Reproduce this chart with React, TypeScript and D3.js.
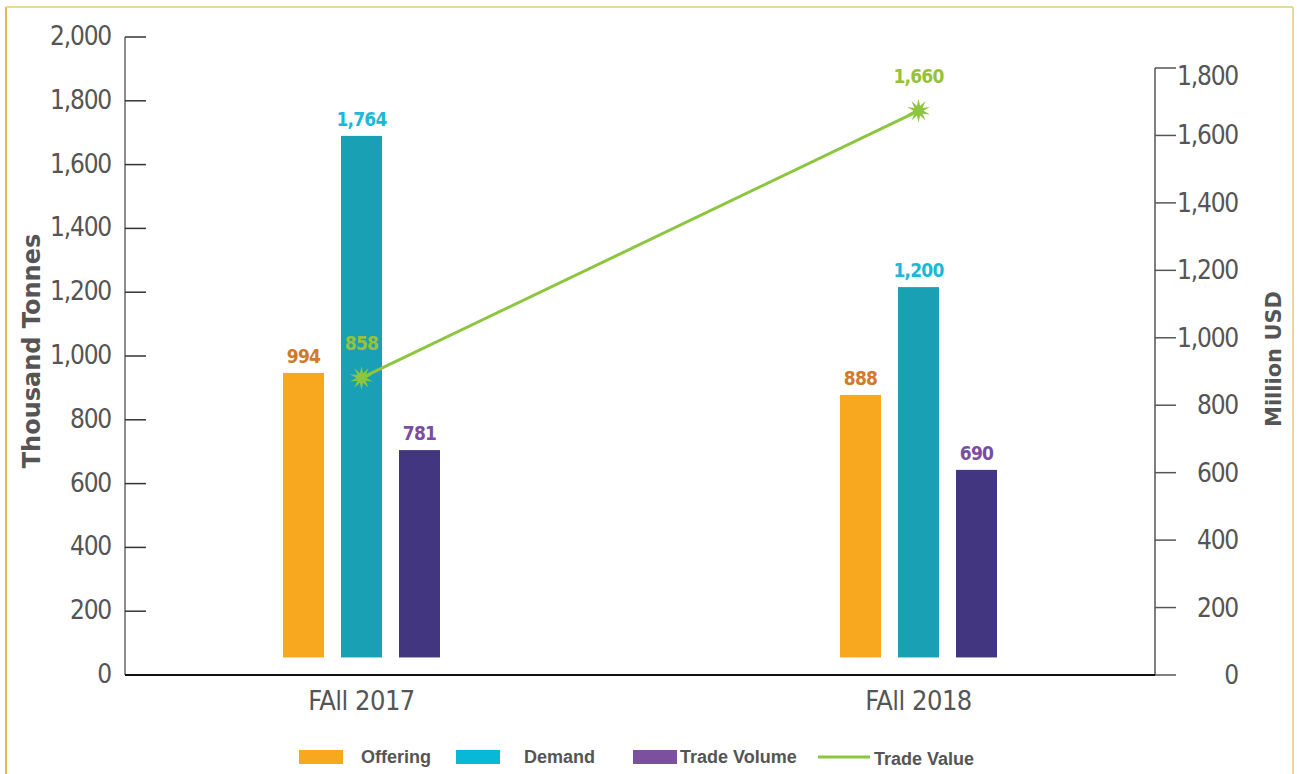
import React from "react";
import * as d3 from "d3";

const categories = ["FAll 2017", "FAll 2018"];
const seriesNames = ["Offering", "Demand", "Trade Volume"];

// bar heights as drawn (thousand tonnes), labels as printed
const offering = [947, 878];
const demand = [1690, 1216];
const tradeVolume = [705, 643];
const offeringLabels = ["994", "888"];
const demandLabels = ["1,764", "1,200"];
const tradeVolumeLabels = ["781", "690"];

// trade value line (million USD)
const tradeValue = [881, 1673];
const tradeValueLabels = ["858", "1,660"];

const leftTicks = [0, 200, 400, 600, 800, 1000, 1200, 1400, 1600, 1800, 2000];
const rightTicks = [0, 200, 400, 600, 800, 1000, 1200, 1400, 1600, 1800];

const W = 1297;
const H = 774;
const BAR_BASE = 55;

const barColors = ["#F7A81F", "#1AA0B4", "#433681"];
const labelColors = ["#D07A2A", "#1BB8D8", "#7B4DA0"];
const legendColors = ["#F7A81F", "#07B9D6", "#7D4F9F"];
const green = "#8CC63F";
const textGray = "#555";
const tickFont = "'Liberation Sans Narrow', 'DejaVu Sans Condensed', sans-serif";
const boldFont = "'Liberation Sans', Arial, sans-serif";

const App = () => {
  const x = d3.scalePoint<string>().domain(categories).range([125, 1155]).padding(0.4246);
  const inner = d3.scaleBand<string>().domain(seriesNames).range([-78.5, 78.5]).paddingInner(0.293);
  const yL = d3.scaleLinear().domain([0, 2000]).range([675, 37]);
  const yR = d3.scaleLinear().domain([0, 1800]).range([675, 68]);

  const series = [offering, demand, tradeVolume];
  const seriesLabels = [offeringLabels, demandLabels, tradeVolumeLabels];

  const line = d3
    .line<number>()
    .x((d, i) => x(categories[i]) as number)
    .y((d) => yR(d));

  // spiky star marker
  const spikes = 10;
  const starPts: [number, number][] = d3.range(spikes * 2).map((i) => [
    (i * Math.PI) / spikes,
    i % 2 === 0 ? 12 : 5,
  ]);
  const star = d3.lineRadial().curve(d3.curveLinearClosed)(starPts) as string;

  const legend = [
    { name: "Offering", sw: 299, tx: 361 },
    { name: "Demand", sw: 456, tx: 524 },
    { name: "Trade Volume", sw: 633, tx: 680 },
  ];

  return (
    <svg width={W} height={H} style={{ position: "absolute", left: 0, top: 0, background: "#fff" }}>
      {/* frame */}
      <line x1={6} y1={7} x2={6} y2={H} stroke="#DFBC3C" strokeWidth={2} />
      <line x1={6} y1={7} x2={1293} y2={7} stroke="#EBD99A" strokeWidth={2} />
      <line x1={1293} y1={7} x2={1293} y2={H} stroke="#EBD99A" strokeWidth={2} />

      {/* left axis */}
      <line x1={125} y1={yL(2000)} x2={125} y2={675} stroke="#666" strokeWidth={1.5} />
      {leftTicks.map((t) => (
        <g key={"l" + t}>
          <line x1={125} x2={146} y1={yL(t)} y2={yL(t)} stroke="#333" strokeWidth={1.5} />
          <text
            x={111}
            y={yL(t) + 8}
            textAnchor="end"
            fontFamily={tickFont}
            fontSize={26}
            letterSpacing={-1.2}
            fill={textGray}
          >
            {d3.format(",")(t)}
          </text>
        </g>
      ))}

      {/* right axis */}
      <line x1={1155} y1={yR(1800)} x2={1155} y2={675} stroke="#555" strokeWidth={1.5} />
      {rightTicks.map((t) => (
        <g key={"r" + t}>
          <line x1={1155} x2={1176} y1={yR(t)} y2={yR(t)} stroke="#555" strokeWidth={1.5} />
          <text
            x={1238}
            y={yR(t) + (t === 1800 ? 17 : 9)}
            textAnchor="end"
            fontFamily={tickFont}
            fontSize={26}
            letterSpacing={-1.2}
            fill={textGray}
          >
            {d3.format(",")(t)}
          </text>
        </g>
      ))}

      {/* x axis */}
      <line x1={125} x2={1155} y1={675} y2={675} stroke="#111" strokeWidth={2} />
      {categories.map((c) => (
        <text
          key={c}
          x={x(c)}
          y={710}
          textAnchor="middle"
          fontFamily={tickFont}
          fontSize={27}
          letterSpacing={-0.5}
          fill={textGray}
        >
          {c}
        </text>
      ))}

      {/* axis titles */}
      <text
        transform="translate(40,351) rotate(-90)"
        textAnchor="middle"
        fontFamily="'DejaVu Sans', sans-serif"
        fontWeight="bold"
        fontSize={24}
        fill={textGray}
      >
        Thousand Tonnes
      </text>
      <text
        transform="translate(1281,359) rotate(-90)"
        textAnchor="middle"
        fontFamily="'DejaVu Sans', sans-serif"
        fontWeight="bold"
        fontSize={21}
        fill={textGray}
      >
        Million USD
      </text>

      {/* bars */}
      {series.map((vals, s) =>
        vals.map((v, i) => {
          const bx = (x(categories[i]) as number) + (inner(seriesNames[s]) as number);
          return (
            <g key={s + "-" + i}>
              <rect
                x={bx}
                y={yL(v)}
                width={inner.bandwidth()}
                height={yL(BAR_BASE) - yL(v)}
                fill={barColors[s]}
              />
              <text
                x={bx + inner.bandwidth() / 2}
                y={yL(v) - 10}
                textAnchor="middle"
                fontFamily={tickFont}
                fontWeight="bold"
                fontSize={19}
                letterSpacing={-0.8}
                fill={labelColors[s]}
              >
                {seriesLabels[s][i]}
              </text>
            </g>
          );
        })
      )}

      {/* trade value line */}
      <path d={line(tradeValue) as string} fill="none" stroke={green} strokeWidth={3} />
      {tradeValue.map((v, i) => (
        <g key={"tv" + i}>
          <path d={star} transform={`translate(${x(categories[i])},${yR(v)})`} fill={green} />
          <text
            x={x(categories[i])}
            y={yR(v) - 28}
            textAnchor="middle"
            fontFamily={tickFont}
            fontWeight="bold"
            fontSize={19}
            letterSpacing={-0.8}
            fill="#96C23A"
          >
            {tradeValueLabels[i]}
          </text>
        </g>
      ))}

      {/* legend */}
      {legend.map((l, i) => (
        <g key={l.name}>
          <rect x={l.sw} y={750} width={44} height={14} fill={legendColors[i]} />
          <text x={l.tx} y={763} fontFamily={boldFont} fontWeight="bold" fontSize={18} fill={textGray}>
            {l.name}
          </text>
        </g>
      ))}
      <line x1={818} x2={870} y1={757} y2={757} stroke={green} strokeWidth={3} />
      <text x={874} y={765} fontFamily={boldFont} fontWeight="bold" fontSize={18} fill={textGray}>
        Trade Value
      </text>
    </svg>
  );
};

export default App;
